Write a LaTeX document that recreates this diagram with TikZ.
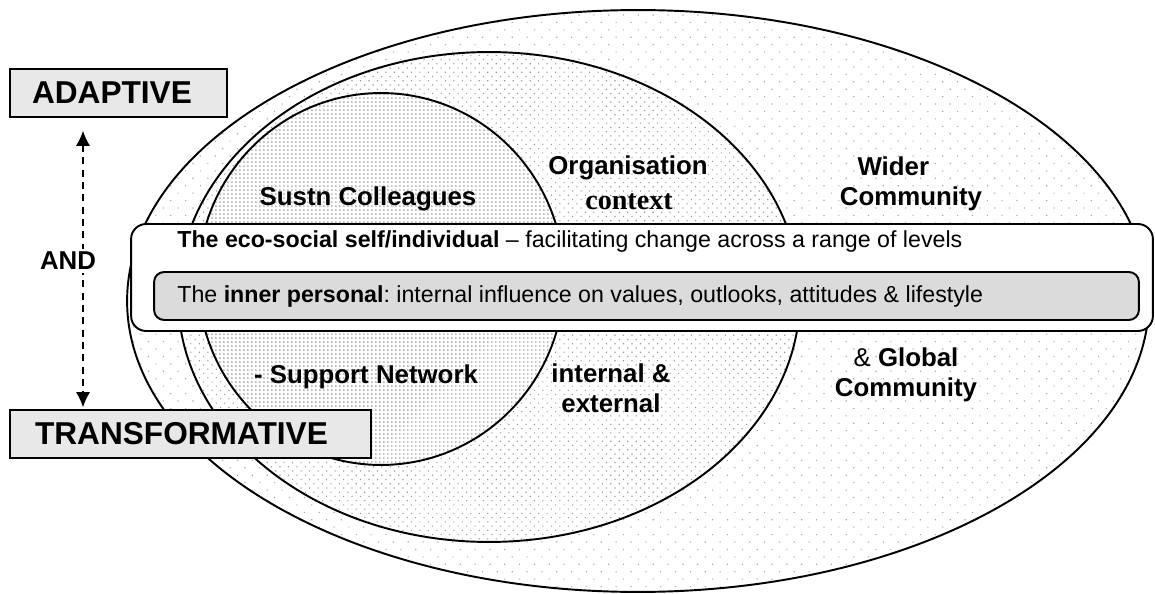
\documentclass[tikz,border=0pt]{standalone}
\usepackage{fontspec}
\setmainfont{Liberation Sans}
\newfontfamily\ctxfont{Liberation Serif}
\usetikzlibrary{patterns.meta,arrows.meta}
\frenchspacing

\begin{document}
\begin{tikzpicture}[x=0.02cm,y=-0.02cm,
    ring/.style={line width=1.1pt, preaction={fill=white}},
    level box/.style={draw, line width=0.9pt, fill=gray!18, minimum height=0.96cm, inner xsep=0.44cm, align=left, font=\fontsize{18}{20}\selectfont\bfseries},
    band/.style={draw, line width=1.1pt, rounded corners=0.3cm, fill=white},
    label node/.style={font=\fontsize{14.7}{17}\selectfont\bfseries, align=center, inner sep=0pt},
    band text/.style={anchor=base west, inner sep=0pt, font=\fontsize{13.2}{15}\selectfont}]
  \useasboundingbox (0,0) rectangle (1155,594);
  % nested circles: wider community, organisation, colleagues
  \draw[ring, pattern={Dots[radius=0.45pt,distance=0.21cm,angle=45]}, pattern color=gray!70] (638,301) ellipse [x radius=10.22cm, y radius=5.82cm];
  \draw[ring, pattern={Dots[radius=0.45pt,distance=0.12cm,angle=45]}, pattern color=gray!80] (489,297) ellipse [x radius=6.22cm, y radius=4.9cm];
  \draw[ring, pattern={Dots[radius=0.45pt,distance=0.08cm]}, pattern color=gray] (381,279) ellipse [x radius=3.66cm, y radius=3.72cm];

  \node[label node] (colleagues) at (368,199) {Sustn Colleagues};
  \node[label node] (support) at (366,377) {- Support Network};
  \node[label node] (organisation) at (628,168) {Organisation};
  \node[label node, font=\ctxfont\fontsize{16}{18}\selectfont\bfseries] (context) at (629,202) {context};
  \node[label node] (internal) at (611,388) {internal \&\\external};
  \node[label node, align=left] (wider) at (911,184) {\hspace*{10pt}Wider\\Community};
  \node[label node] (global) at (906,375) {{\mdseries\&} Global\\Community};

  % the self, across all the levels
  \node[band, minimum width=20.44cm, minimum height=2.14cm] (eco) at (642,277.5) {};
  \node[band, fill=gray!28, rounded corners=0.2cm, minimum width=19.7cm, minimum height=0.96cm] (inner) at (646.5,296) {};
  \node[band text] (ecotext) at (177,248) {\textbf{The eco-social self/individual} -- facilitating change across a range of levels};
  \node[band text] (innertext) at (177,302) {The \textbf{inner personal}: internal influence on values, outlooks, attitudes \& lifestyle};

  % adaptive and transformative
  \node[level box, text width=3.46cm] (adaptive) at (118.5,93) {ADAPTIVE};
  \node[level box, text width=6.22cm, inner xsep=0.5cm] (transformative) at (190.5,434) {TRANSFORMATIVE};
  \coordinate (axis) at (83,0);
  \draw[dashed, line width=0.7pt, dash pattern=on 4pt off 3pt, {Latex[length=0.3cm,width=0.28cm]}-{Latex[length=0.3cm,width=0.28cm]}, shorten <=0.26cm, shorten >=0.04cm] (adaptive.south -| axis) -- (transformative.north -| axis);
  \node[label node, fill=white, inner sep=2pt] (and) at (68,261) {AND};
\end{tikzpicture}
\end{document}
